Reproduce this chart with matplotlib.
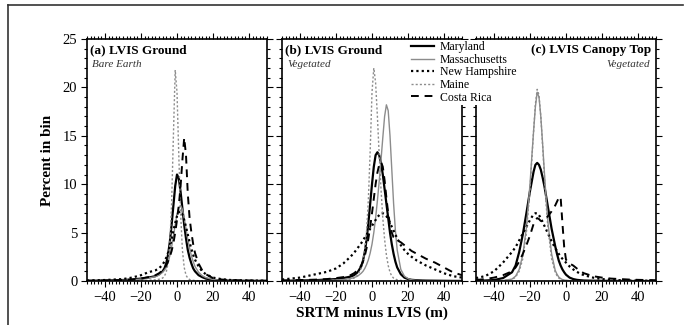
import matplotlib
matplotlib.use("Agg")
import matplotlib.pyplot as plt
from matplotlib.ticker import MultipleLocator
from matplotlib.lines import Line2D

plt.rcParams['font.family'] = ['Liberation Serif', 'DejaVu Serif']

# panel (a) LVIS Ground, bare earth
xa = [-50, -40, -30, -25, -20, -16, -12, -10, -8, -7, -6, -5, -4, -3, -2, -1, 0, 1, 2, 3,
      4, 5, 6, 7, 8, 9, 10, 12, 14, 16, 20, 25, 30, 40, 50]
md_a = [0.02, 0.05, 0.1, 0.15, 0.25, 0.35, 0.5, 0.7, 1.0, 1.3, 1.8, 2.7, 4.0, 5.8, 7.8, 9.8, 11.0, 10.6, 9.2, 7.5,
        5.8, 4.4, 3.2, 2.4, 1.8, 1.3, 1.0, 0.6, 0.4, 0.25, 0.12, 0.06, 0.04, 0.02, 0.01]
ma_a = [0.02, 0.04, 0.08, 0.12, 0.2, 0.3, 0.45, 0.6, 0.9, 1.1, 1.4, 1.9, 2.6, 3.5, 4.6, 5.8, 6.9, 7.6, 7.8, 7.4,
        6.5, 5.4, 4.3, 3.4, 2.6, 2.0, 1.5, 0.9, 0.55, 0.35, 0.15, 0.07, 0.04, 0.02, 0.01]
nh_a = [0.05, 0.1, 0.2, 0.35, 0.6, 0.9, 1.1, 1.3, 1.7, 2.0, 2.4, 2.9, 3.5, 4.3, 5.2, 6.0, 6.7, 7.1, 7.2, 6.9,
        6.3, 5.6, 4.8, 4.0, 3.3, 2.7, 2.2, 1.5, 1.0, 0.7, 0.35, 0.18, 0.1, 0.05, 0.03]
me_a = [0, 0, 0.02, 0.03, 0.05, 0.08, 0.12, 0.18, 0.3, 0.5, 0.9, 1.8, 3.8, 8.0, 15.0, 21.8, 19.5, 13.0, 7.0, 3.2,
        1.4, 0.6, 0.3, 0.15, 0.1, 0.07, 0.05, 0.03, 0.02, 0.01, 0, 0, 0, 0, 0]
cr_a = [0.02, 0.05, 0.1, 0.15, 0.25, 0.4, 0.6, 0.8, 1.1, 1.3, 1.6, 2.0, 2.5, 3.1, 3.9, 5.0, 6.3, 7.8, 9.8, 12.5,
        14.8, 13.0, 9.0, 6.5, 5.0, 3.8, 2.9, 1.8, 1.1, 0.7, 0.3, 0.15, 0.08, 0.04, 0.02]

# panel (b) LVIS Ground, vegetated
xb = [-50, -40, -35, -30, -25, -20, -16, -12, -10, -8, -6, -5, -4, -3, -2, -1, 0, 1, 2, 3, 4,
      5, 6, 7, 8, 9, 10, 11, 12, 13, 14, 16, 18, 20, 22, 25, 28, 30, 35, 40, 45, 50]
md_b = [0.02, 0.05, 0.07, 0.1, 0.15, 0.2, 0.3, 0.45, 0.6, 0.9, 1.5, 2.1, 3.0, 4.3, 6.0, 8.0, 10.0, 11.8, 13.0, 13.3, 13.0,
        12.2, 11.0, 9.5, 8.0, 6.5, 5.0, 3.8, 2.8, 2.0, 1.4, 0.7, 0.35, 0.2, 0.12, 0.08, 0.05, 0.04, 0.03, 0.02, 0.01, 0.01]
ma_b = [0.01, 0.02, 0.03, 0.05, 0.07, 0.1, 0.15, 0.25, 0.35, 0.5, 0.8, 1.0, 1.3, 1.7, 2.2, 2.9, 3.8, 5.0, 6.5, 8.3, 10.3,
        12.5, 14.8, 17.0, 18.2, 17.6, 15.0, 11.5, 8.0, 5.2, 3.2, 1.2, 0.5, 0.25, 0.12, 0.06, 0.04, 0.03, 0.02, 0.01, 0.01, 0.01]
nh_b = [0.15, 0.35, 0.55, 0.75, 0.95, 1.3, 1.8, 2.5, 2.9, 3.4, 3.9, 4.2, 4.5, 4.8, 5.1, 5.4, 5.7, 6.0, 6.3, 6.6, 6.8,
        7.0, 7.0, 6.9, 6.7, 6.4, 6.0, 5.6, 5.2, 4.8, 4.4, 3.7, 3.2, 2.8, 2.5, 2.1, 1.8, 1.6, 1.2, 0.8, 0.5, 0.35]
me_b = [0, 0.01, 0.02, 0.03, 0.05, 0.08, 0.12, 0.2, 0.3, 0.6, 1.3, 2.0, 3.2, 5.2, 8.5, 13.5, 19.5, 22.0, 20.5, 17.0, 13.0,
        9.5, 6.5, 4.3, 2.7, 1.6, 0.9, 0.5, 0.3, 0.2, 0.12, 0.06, 0.03, 0.02, 0.01, 0, 0, 0, 0, 0, 0, 0]
cr_b = [0.05, 0.1, 0.12, 0.15, 0.2, 0.3, 0.4, 0.6, 0.8, 1.1, 1.6, 2.0, 2.6, 3.4, 4.4, 5.6, 7.0, 8.5, 10.0, 11.2, 12.0,
        12.3, 11.8, 10.4, 8.6, 7.0, 5.8, 5.0, 4.5, 4.3, 4.2, 4.0, 3.7, 3.4, 3.1, 2.8, 2.5, 2.3, 1.9, 1.4, 0.9, 0.6]

# panel (c) LVIS Canopy Top, vegetated
xc = [-50, -45, -40, -35, -30, -28, -26, -24, -22, -20, -19, -18, -17, -16, -15, -14, -13, -12, -11, -10,
      -8, -6, -5, -4, -3, -2, -1, 0, 2, 4, 6, 8, 10, 15, 20, 25, 30, 35, 40, 45, 50]
md_c = [0.02, 0.05, 0.1, 0.3, 0.9, 1.6, 3.0, 4.8, 7.0, 9.3, 10.3, 11.3, 12.0, 12.2, 12.0, 11.5, 10.7, 9.8, 8.7, 7.6,
        5.4, 3.6, 2.8, 2.1, 1.6, 1.2, 0.9, 0.65, 0.35, 0.2, 0.12, 0.08, 0.05, 0.03, 0.02, 0.01, 0.01, 0, 0, 0, 0]
ma_c = [0, 0.01, 0.02, 0.05, 0.2, 0.5, 1.2, 2.7, 5.5, 10.0, 12.8, 15.5, 18.0, 19.5, 19.0, 17.0, 14.2, 11.2, 8.4, 6.0,
        2.8, 1.1, 0.7, 0.4, 0.25, 0.15, 0.1, 0.07, 0.04, 0.02, 0.01, 0.01, 0, 0, 0, 0, 0, 0, 0, 0, 0]
nh_c = [0.3, 0.5, 1.0, 1.9, 3.0, 3.5, 4.2, 4.9, 5.6, 6.3, 6.6, 6.9, 7.0, 7.0, 6.8, 6.5, 6.1, 5.7, 5.3, 4.9,
        4.1, 3.4, 3.1, 2.8, 2.5, 2.3, 2.1, 1.9, 1.5, 1.2, 0.95, 0.75, 0.6, 0.35, 0.2, 0.12, 0.08, 0.05, 0.04, 0.03, 0.02]
me_c = [0, 0.01, 0.02, 0.05, 0.15, 0.4, 1.0, 2.3, 5.0, 9.5, 12.5, 15.5, 18.3, 19.8, 19.2, 17.0, 14.0, 10.8, 7.8, 5.4,
        2.3, 0.9, 0.55, 0.3, 0.2, 0.12, 0.08, 0.05, 0.03, 0.02, 0.01, 0.01, 0, 0, 0, 0, 0, 0, 0, 0, 0]
cr_c = [0.1, 0.2, 0.35, 0.6, 1.0, 1.4, 2.0, 2.8, 3.7, 4.7, 5.3, 5.9, 6.3, 6.5, 6.4, 6.2, 6.2, 6.3, 6.5, 6.7,
        7.2, 7.8, 8.2, 8.6, 8.7, 6.0, 3.5, 2.2, 1.8, 1.6, 1.3, 1.0, 0.8, 0.5, 0.35, 0.25, 0.2, 0.15, 0.12, 0.1, 0.08]

names = ["Maryland", "Massachusetts", "New Hampshire", "Maine", "Costa Rica"]
styles = [dict(color="black", lw=1.6, ls="-"),
          dict(color="#8c8c8c", lw=1.0, ls="-"),
          dict(color="black", lw=1.6, ls=(0, (1, 1.4))),
          dict(color="#8c8c8c", lw=1.0, ls=(0, (1.5, 1.5))),
          dict(color="black", lw=1.4, ls=(0, (4, 3)))]

panels = [(xa, [md_a, ma_a, nh_a, me_a, cr_a], "(a) LVIS Ground", "Bare Earth", 87),
          (xb, [md_b, ma_b, nh_b, me_b, cr_b], "(b) LVIS Ground", "Vegetated", 282),
          (xc, [md_c, ma_c, nh_c, me_c, cr_c], "(c) LVIS Canopy Top", "Vegetated", 476)]

fig = plt.figure(figsize=(6.88, 3.25), dpi=100)
W, H = 688.0, 325.0

axes = []
for i, (x, series, title, sub, left) in enumerate(panels):
    ax = fig.add_axes([left / W, 1 - 281 / H, 180 / W, 242 / H])
    for y, st in zip(series, styles):
        ax.plot(x, y, **st)
    ax.set_xlim(-50, 50)
    ax.set_ylim(0, 25)
    ax.xaxis.set_major_locator(MultipleLocator(20))
    ax.xaxis.set_minor_locator(MultipleLocator(2))
    ax.yaxis.set_major_locator(MultipleLocator(5))
    ax.yaxis.set_minor_locator(MultipleLocator(1))
    ax.tick_params(which="both", direction="out", top=True, right=True, labelsize=10.5,
                   width=0.8, pad=3)
    ax.tick_params(which="major", length=4)
    ax.tick_params(which="minor", length=2)
    for s in ax.spines.values():
        s.set_linewidth(1.2)
    if i > 0:
        ax.tick_params(labelleft=False)
    if i < 2:
        ax.text(0.018, 0.955, title, transform=ax.transAxes, fontsize=9.5, fontweight="bold",
                ha="left", va="center")
        ax.text(0.028, 0.895, sub, transform=ax.transAxes, fontsize=8, style="italic",
                color="#333333", ha="left", va="center")
    else:
        ax.text(0.975, 0.955, title, transform=ax.transAxes, fontsize=9.5, fontweight="bold",
                ha="right", va="center")
        ax.text(0.965, 0.895, sub, transform=ax.transAxes, fontsize=8, style="italic",
                color="#333333", ha="right", va="center")
    axes.append(ax)

axes[0].set_ylabel("Percent in bin", fontsize=11, fontweight="bold", labelpad=6)
fig.text(372 / W, 1 - 313 / H, "SRTM minus LVIS (m)", fontsize=11, fontweight="bold",
         ha="center", va="center")

handles = [Line2D([], [], **st) for st in styles]
leg = fig.legend(handles, names, loc="upper left", bbox_to_anchor=(410 / W, 1 - 40 / H),
                 frameon=True, fontsize=8.5, handlelength=1.9, handletextpad=0.5,
                 labelspacing=0.05, borderpad=0.1, borderaxespad=0)
leg.get_frame().set_facecolor("white")
leg.get_frame().set_edgecolor("none")
leg.get_frame().set_alpha(1)

# frame around the figure
fig.add_artist(Line2D([8 / W, 683 / W], [1 - 5 / H, 1 - 5 / H], transform=fig.transFigure,
                      color="#333333", lw=1.2))
fig.add_artist(Line2D([8 / W, 8 / W], [1 - 5 / H, 0], transform=fig.transFigure,
                      color="#333333", lw=1.2))

fig.savefig("out.png", dpi=100)
